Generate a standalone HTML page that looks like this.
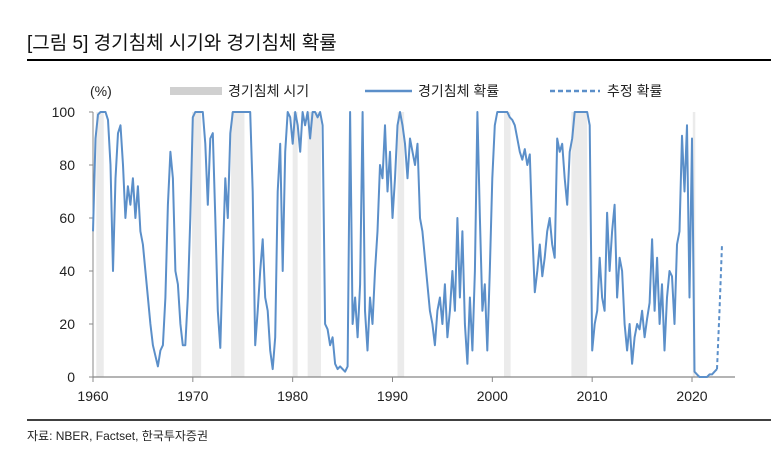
<!DOCTYPE html>
<html><head><meta charset="utf-8">
<style>
body{margin:0;background:#fff;width:771px;height:462px;overflow:hidden;font-family:"Liberation Sans","Noto Sans CJK KR",sans-serif;}
svg text{font-family:"Liberation Sans","Noto Sans CJK KR",sans-serif;}
</style></head>
<body>
<svg id="chart" width="771" height="462" xmlns="http://www.w3.org/2000/svg">
<text x="27" y="49" font-size="19" fill="#111">[그림 5] 경기침체 시기와 경기침체 확률</text>
<line x1="27" y1="60" x2="771" y2="60" stroke="#000" stroke-width="2"/>
<line x1="27" y1="420" x2="771" y2="420" stroke="#000" stroke-width="1.5"/>
<text x="27" y="440" font-size="12" fill="#222">자료: NBER, Factset,  한국투자증권</text>
<text x="90" y="96" font-size="14" fill="#222">(%)</text>
<g>
<rect x="170" y="87" width="52" height="8" fill="#d0d0d0"/>
<text x="228" y="96" font-size="14" fill="#222">경기침체 시기</text>
<line x1="365" y1="91" x2="412" y2="91" stroke="#5b8fc9" stroke-width="2.5"/>
<text x="418" y="96" font-size="14" fill="#222">경기침체 확률</text>
<line x1="550" y1="91" x2="600" y2="91" stroke="#5b8fc9" stroke-width="2.5" stroke-dasharray="5,3"/>
<text x="607" y="96" font-size="14" fill="#222">추정 확률</text>
</g>
<g id="bands"></g>
<g id="axes"></g>
<g id="series"></g>
</svg>
<script>
const recStart=[1960.33,1969.92,1973.83,1980.0,1981.5,1990.5,2001.17,2007.92,2020.08];
const recEnd=[1961.08,1970.83,1975.17,1980.5,1982.83,1991.17,2001.83,2009.5,2020.33];
const yTicks=[0,20,40,60,80,100];
const xTicks=[1960,1970,1980,1990,2000,2010,2020];
const startYear=1960;
const probValues=[
55,90,99,100, 100,100,97,80, 40,75,92,95, 80,60,72,65, 75,60,72,55,
50,40,30,20, 12,8,4,10, 12,30,65,85, 75,40,35,20, 12,12,30,60,
98,100,100,100, 100,88,65,90, 92,60,25,11, 45,75,60,92, 100,100,100,100,
100,100,100,100, 70,12,25,40, 52,30,25,10, 3,15,70,88, 40,85,100,98,
88,100,95,85, 100,95,100,90, 100,100,98,100, 95,20,18,12, 15,5,3,4,
3,2,4,100, 20,30,15,35, 100,25,10,30, 20,40,55,80, 75,95,70,85,
60,75,95,100, 95,88,75,90, 85,80,88,60, 55,45,35,25, 20,12,25,30,
20,35,15,25, 40,25,60,30, 55,20,5,30, 10,40,100,60, 25,35,10,40,
75,95,100,100, 100,100,100,98, 97,95,90,85, 82,86,80,84, 55,32,40,50,
38,45,55,60, 50,45,90,85, 88,75,65,85, 90,100,100,100, 100,100,100,95,
10,20,25,45, 30,25,62,40, 55,65,30,45, 40,20,10,20, 5,15,20,18,
25,15,22,28, 52,25,45,20, 35,10,30,40, 38,20,50,55, 91,70,95,30,
90,2,1,0, 0,0,0,1, 1,2,3
];
const estYears=[2022.5,2022.75,2023.0];
const estValues=[3,25,50];

const X0=93,X1=735,Y0=377,Y1=112;
function xs(yr){return X0+(yr-1960)*(692-93)/60;}
function ys(v){return Y0-(v/100)*(Y0-Y1);}
const NS='http://www.w3.org/2000/svg';
function mk(tag,attrs,parent){const e=document.createElementNS(NS,tag);for(const k in attrs)e.setAttribute(k,attrs[k]);parent.appendChild(e);return e;}

const bands=document.getElementById('bands');
recStart.forEach((s,i)=>{
  const r=mk('rect',{x:xs(s),y:Y1,width:Math.max(2,xs(recEnd[i])-xs(s)),height:Y0-Y1,fill:'#ebebeb'},bands);
  
  
});

const axes=document.getElementById('axes');
const ya=mk('line',{x1:X0,y1:Y1,x2:X0,y2:Y0,stroke:'#888','stroke-width':1},axes);


const xa=mk('line',{x1:X0,y1:Y0,x2:X1,y2:Y0,stroke:'#888','stroke-width':1.2},axes);


yTicks.forEach(v=>{
  const t=mk('line',{x1:X0-4,y1:ys(v),x2:X0,y2:ys(v),stroke:'#888'},axes);
  
  
  const l=mk('text',{x:75,y:ys(v)+5,'font-size':14,'text-anchor':'end',fill:'#222'},axes);
  l.textContent=v;
  
  
});
xTicks.forEach(v=>{
  const t=mk('line',{x1:xs(v),y1:Y0,x2:xs(v),y2:Y0+5,stroke:'#888'},axes);
  
  
  const l=mk('text',{x:xs(v),y:401,'font-size':14,'text-anchor':'middle',fill:'#222'},axes);
  l.textContent=v;
  
  
});

const series=document.getElementById('series');
const pts=probValues.map((v,i)=>xs(startYear+i*0.25).toFixed(1)+','+ys(v).toFixed(1)).join(' ');
const pl=mk('polyline',{points:pts,fill:'none',stroke:'#5b8fc9','stroke-width':2,'stroke-linejoin':'round'},series);


const ept=estValues.map((v,i)=>xs(estYears[i]).toFixed(1)+','+ys(v).toFixed(1)).join(' ');
const el=mk('polyline',{points:ept,fill:'none',stroke:'#5b8fc9','stroke-width':2,'stroke-dasharray':'4,3'},series);


</script>
</body></html>
